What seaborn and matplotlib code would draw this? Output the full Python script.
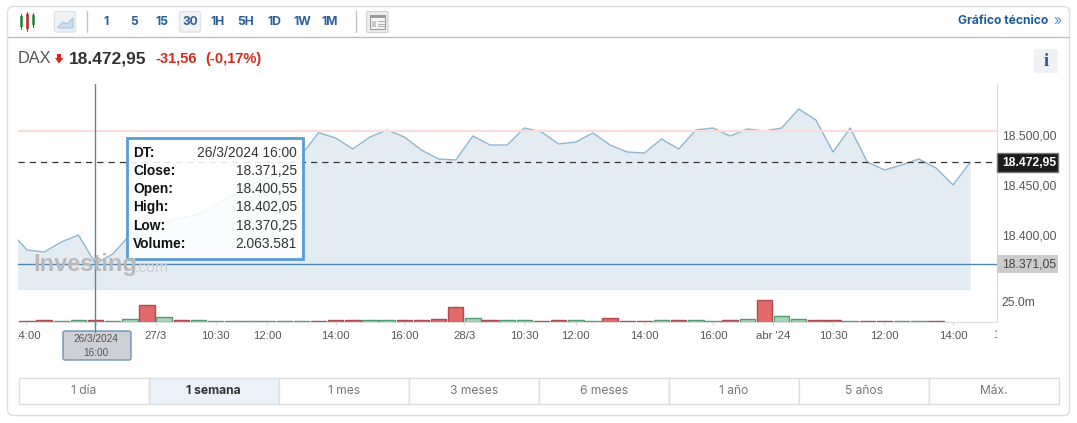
"""
DAX 1 semana (30 min) - captura de Investing.com
"""

import matplotlib
matplotlib.use("Agg")
import matplotlib.pyplot as plt
import seaborn as sns
from matplotlib.patches import FancyBboxPatch, Polygon, Rectangle
from matplotlib.transforms import Bbox

W, H = 1077, 423

# cierres cada 30 min; el primero queda recortado por el borde izquierdo
prices = [
    18404, 18385, 18383, 18393, 18400, 18371.25, 18381, 18400, 18410, 18413,
    18417, 18421, 18430, 18440, 18450, 18457, 18465, 18480, 18502.3, 18497,
    18486, 18498, 18505, 18498, 18485, 18476, 18475, 18499, 18490, 18490,
    18507, 18503, 18491, 18493, 18502, 18490, 18483, 18482, 18496, 18486,
    18505, 18507, 18499, 18506, 18504, 18507, 18526, 18515, 18483, 18507,
    18473, 18465, 18470, 18476, 18467, 18450, 18472.95,
]
# volumen en millones, uno por vela desde la segunda
volumes = [
    0.9, 2.1, 1.2, 2.1, 2.06, 1.2, 3.3, 21, 6.2, 2.1,
    2.0, 1.2, 1.2, 1.0, 1.0, 1.0, 1.0, 1.0, 2.0, 2.0,
    2.0, 2.0, 2.0, 2.0, 3.7, 18.7, 4.6, 2.0, 2.0, 2.0,
    0.9, 2.0, 2.0, 1.0, 4.6, 0.9, 0.9, 2.0, 2.0, 2.0,
    1.0, 2.5, 3.3, 27, 7.1, 3.3, 2.0, 2.0, 1.0, 1.0,
    1.0, 1.0, 1.0, 1.0,
]
sides = list("rrggrggrgrgggggggrr" "rggrrrrgrggrrggrrrgrgg" "rgrggrrgrrggr")

x_tick_pos = [0.95, 5, 8.5, 12, 15, 19, 23, 26.5, 30, 33, 37, 41, 44.5, 48, 51, 55]
x_tick_labels = ["14:00", "16:00", "27/3", "10:30", "12:00", "14:00", "16:00", "28/3",
                 "10:30", "12:00", "14:00", "16:00", "abr '24", "10:30", "12:00", "14:00"]
# etiqueta siguiente, fuera del eje: sólo se ve su primer carácter
x_next_pos = 58.14
x_next_label = "15:30"
y_ticks = [18400, 18450, 18500]
y_tick_labels = ["18.400,00", "18.450,00", "18.500,00"]
prev_close = 18504
last_price = 18472.95
cross_price = 18371.05

intervals = ["1", "5", "15", "30", "1H", "5H", "1D", "1W", "1M"]
ranges = ["1 día", "1 semana", "1 mes", "3 meses", "6 meses", "1 año", "5 años", "Máx."]
tip_names = ["DT:", "Close:", "Open:", "High:", "Low:", "Volume:"]
tip_values = ["26/3/2024 16:00", "18.371,25", "18.400,55", "18.402,05", "18.370,25", "2.063.581"]

sns.set_style("white")
plt.rcParams["font.family"] = ["Liberation Sans", "DejaVu Sans"]


def px_rect(left, top, right, bottom):
    return [left / W, 1 - bottom / H, (right - left) / W, (bottom - top) / H]


def idx_to_lim(px):
    # vela 1 en x=27 px, 17.15 px entre velas
    return 1 + (px - 27) / 17.15


fig = plt.figure(figsize=(W / 100, H / 100), dpi=100, facecolor="white")

# ── precio ───────────────────────────────────────────────────────────────────
ax = fig.add_axes(px_rect(18, 84, 997, 290))
idx = list(range(len(prices)))
ymin, ymax = 18345, 18551
ax.fill_between(idx, prices, ymin, color="#e4ecf3", lw=0)
sns.lineplot(x=idx, y=prices, ax=ax, color="#8fb5cf", lw=1, errorbar=None)
ax.axhline(prev_close, color="#fbdcdc", lw=1.5)
ax.axhline(last_price, color="#333333", lw=0.9, dashes=(5, 4))
ax.axhline(cross_price, color="#4f86b8", lw=1)
ax.set_xlim(idx_to_lim(18), idx_to_lim(997))
ax.set_ylim(ymin, ymax)
ax.set_xticks([])
ax.set_yticks(y_ticks, y_tick_labels)
ax.yaxis.tick_right()
ax.tick_params(axis="y", length=0, pad=4, labelsize=8.7, labelcolor="#555555")
sns.despine(ax=ax, left=True, top=True, right=False, bottom=False)
ax.spines["right"].set_color("#dddddd")
ax.spines["bottom"].set_color("#cccccc")

# ── volumen ──────────────────────────────────────────────────────────────────
ax_vol = fig.add_axes(px_rect(18, 290, 997, 321.5))
vol_idx = list(range(1, len(volumes) + 1))
sns.barplot(
    x=vol_idx,
    y=volumes,
    hue=sides,
    hue_order=["r", "g"],
    palette={"r": "#e26a6c", "g": "#a9d6ba"},
    dodge=False,
    native_scale=True,
    width=0.9,
    saturation=1,
    legend=False,
    ax=ax_vol,
)
# containers siguen hue_order
for cont, edge in zip(ax_vol.containers, ["#b04a50", "#4f9d70"]):
    for bar in cont:
        bar.set_edgecolor(edge)
        bar.set_linewidth(1)
ax_vol.set_xticks(x_tick_pos, x_tick_labels)
ax_vol.set_xlim(idx_to_lim(18), idx_to_lim(997))
ax_vol.set_ylim(0, 40)
ax_vol.set_yticks([25], ["25.0m"])
ax_vol.yaxis.tick_right()
ax_vol.tick_params(axis="y", length=2, width=1, color="#cccccc", pad=1.5, labelsize=8.7, labelcolor="#555555")
ax_vol.tick_params(axis="x", length=2, width=1, color="#dddddd", pad=4.7, labelsize=8.2, labelcolor="#555555", bottom=True)
ax_vol.set_xlabel("")
ax_vol.set_ylabel("")
sns.despine(ax=ax_vol, left=True, top=True, right=False, bottom=False)
ax_vol.spines["right"].set_color("#dddddd")
ax_vol.spines["bottom"].set_color("#dddddd")
# las etiquetas de los extremos salen cortadas por el área del gráfico
clip = Bbox([[18, 0], [997, H]])
for lab in ax_vol.get_xticklabels():
    lab.set_clip_on(True)
    lab.set_clip_box(clip)
next_lab = ax_vol.text(x_next_pos, -0.43, x_next_label, transform=ax_vol.get_xaxis_transform(),
                       fontsize=8.2, color="#555555", ha="center", va="center")
next_lab.set_clip_path(None)
next_lab.set_clip_box(clip)
next_lab.set_clip_on(True)

# ── interfaz alrededor, en píxeles ───────────────────────────────────────────
ui = fig.add_axes([0, 0, 1, 1], zorder=5)
ui.set_xlim(0, W)
ui.set_ylim(H, 0)
ui.axis("off")
ui.patch.set_alpha(0)


def box(x0, y0, x1, y1, fc="none", ec="none", lw=1, rounding=0, **kw):
    if rounding:
        p = FancyBboxPatch((x0, y0), x1 - x0, y1 - y0, boxstyle=f"round,pad=0,rounding_size={rounding}",
                           fc=fc, ec=ec, lw=lw, **kw)
    else:
        p = Rectangle((x0, y0), x1 - x0, y1 - y0, fc=fc, ec=ec, lw=lw, **kw)
    ui.add_patch(p)
    return p


def label(x, y, s, size=8.7, color="#333333", weight="normal", ha="left", family=None, **kw):
    if family:
        kw["family"] = family
    ui.text(x, y, s, fontsize=size, color=color, fontweight=weight, ha=ha, va="center", **kw)


box(7.5, 6.5, 1069.5, 415.5, ec="#dddddd", rounding=6)
ui.plot([8, 1069], [37.5, 37.5], color="#bdbdbd", lw=1)

# iconos de la barra
for x, top, bot, c in [(21, 16, 27, "#5aa86b"), (27, 14, 29, "#d9534f"), (33, 15, 25, "#5aa86b")]:
    ui.plot([x, x], [top - 2, bot + 2], color="#555555", lw=0.8)
    box(x - 1.5, top, x + 1.5, bot, fc=c)
box(54.5, 11.5, 75.5, 32, fc="#eef1f5", ec="#dfe3e8", rounding=2)
ui.add_patch(Polygon([(58, 27), (63, 22), (67, 24), (73, 18), (73, 28), (58, 28)], fc="#cfdcea", ec="#a9c3dc", lw=0.8))
ui.plot([86.5, 86.5], [11, 32], color="#c4c4c4", lw=1)
ui.plot([355.5, 355.5], [11, 32], color="#c4c4c4", lw=1)
box(179.5, 11.5, 200.5, 32, fc="#f1f3f6", ec="#dfe3e8", rounding=2)
for name, x in zip(intervals, [106, 134, 162, 190, 218, 246, 274, 302, 330]):
    label(x, 22, name, size=8.7, color="#2b6099", weight="bold", ha="center", family="Inter")
box(366.5, 11.5, 388, 32.5, fc="#eeeeee", ec="#d5d5d5", rounding=2)
box(370, 15, 385, 29, fc="#f7f7f7", ec="#9a9a9a", lw=0.8)
box(370, 15, 385, 18.5, fc="#9a9a9a")
box(371.5, 21, 376, 27, fc="#c8c8c8")
for y in (21.5, 24, 26.5):
    ui.plot([378, 384], [y, y], color="#b0b0b0", lw=0.8)
label(1048, 21.5, "Gráfico técnico", size=8.7, color="#1f5c99", weight="bold", ha="right", family="Inter")
label(1058, 21, "»", size=10, color="#5f8fbf", ha="center", family="Inter")

# cabecera
label(18, 58.5, "DAX", size=11.8, color="#555555")
ui.add_patch(Polygon([(55, 58), (57, 58), (57, 54), (61, 54), (61, 58), (63.5, 58), (59, 63.5)], fc="#d9281e", ec="none"))
label(69, 58.5, "18.472,95", size=12.5, color="#333333", weight="bold")
label(155, 58.5, "-31,56", size=10.5, color="#d9281e", weight="bold")
label(205, 58.5, "(-0,17%)", size=10.5, color="#d9281e", weight="bold")
box(1034, 49, 1058, 73, fc="#eef1f5", rounding=2)
label(1046, 61, "i", size=13, color="#1f5c99", weight="bold", ha="center", family="Liberation Serif")

# marca de agua
label(33, 265, "Investing", size=17, color="#b9b9b9", weight="bold")
label(135, 268, ".com", size=11.3, color="#cfcfcf")

# cruceta
ui.plot([95, 95], [84, 332], color="#4f86b8", lw=1)

# tooltip
box(126.5, 138.5, 303, 259, fc=(1, 1, 1, 0.88), ec="#5b9bd5", lw=2)
for y, name, val in zip([153, 171, 189, 207, 225.5, 244], tip_names, tip_values):
    label(133, y, name, size=9.9, color="#111111", weight="bold")
    label(297, y, val, size=9.9, color="#333333", ha="right")

# etiqueta de fecha
box(63, 331, 131, 360, fc="#cdd1d6", ec="#6f93b8", rounding=2)
label(96, 339.5, "26/3/2024", size=7.2, color="#555555", ha="center")
label(96, 352.5, "16:00", size=7.2, color="#555555", ha="center")

# etiquetas de precio a la derecha
box(997, 153, 1058, 172, fc="#1c1c1c", ec="#777777")
label(1056, 162.5, "18.472,95", size=8.7, color="white", weight="bold", ha="right")
box(997, 255, 1058, 273, fc="#cccccc")
label(1056, 264.5, "18.371,05", size=8.7, color="#444444", ha="right")

# pestañas de periodo
for i, name in enumerate(ranges):
    x0 = 18.5 + 130.1 * i
    active = name == "1 semana"
    box(x0, 378.5, x0 + 130.1, 404.5, fc="#eaf1f8" if active else "white", ec="#dddddd")
    label(x0 + 65, 391.5, name, size=8.7, color="#333333" if active else "#777777",
          weight="bold" if active else "normal", ha="center", family="Inter")

fig.savefig("out.png", dpi=100)
